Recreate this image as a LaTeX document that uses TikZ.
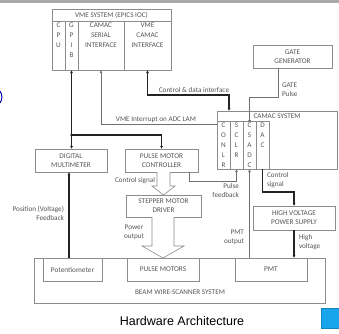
\documentclass[tikz,border=0pt]{standalone}
\usepackage{fontspec}
\setmainfont{Carlito}
\newfontfamily\arialf{Liberation Sans}
\usetikzlibrary{arrows.meta,calc}
\definecolor{boxc}{RGB}{140,140,140}
\definecolor{txtc}{RGB}{85,85,85}
\definecolor{thk}{RGB}{35,35,35}
\definecolor{barc}{RGB}{170,170,170}
\definecolor{sqc}{RGB}{25,165,235}
\begin{document}
\begin{tikzpicture}[x=1pt,y=-1pt,
 every node/.style={inner sep=0pt,outer sep=0pt},
 box/.style={draw=boxc,line width=0.6pt,anchor=north west,font=\fontsize{7.3}{9}\selectfont,text=txtc,align=center},
 lbl/.style={font=\fontsize{7.2}{9}\selectfont,text=txtc},
 stack/.style={font=\fontsize{7.2}{10}\selectfont,text=txtc,align=center,anchor=north},
 thinln/.style={draw=boxc!80!black,line width=0.6pt},
 thickln/.style={draw=thk,line width=1.2pt},
 tipa/.style={-{Latex[length=3pt,width=3pt]}},
 tipb/.style={{Latex[length=3pt,width=3pt]}-{Latex[length=3pt,width=3pt]}},
 tipr/.style={{Latex[length=3pt,width=3pt]}-},
 hollow/.style={draw=boxc,line width=0.6pt,fill=white,line join=miter}]
\useasboundingbox (0,0) rectangle (339,333);
\fill[barc] (0,0) rectangle (339,3);
\draw[blue!70!black,line width=1pt] (0,91) .. controls (2.5,94) and (2.5,100) .. (0,103);

% VME system
\node[box,minimum width=119,minimum height=61] (vme) at (52,9) {};
\node[lbl] (vmet) at (111.5,15.5) {VME SYSTEM (EPICS IOC)};
\node[box,minimum width=13,minimum height=49] (cpu) at (52,21) {};
\node[box,minimum width=13,minimum height=49] (gpib) at (65,21) {};
\node[box,minimum width=46,minimum height=49] (csi) at (78,21) {};
\node[box,minimum width=47,minimum height=49] (vci) at (124,21) {};
\node[stack] (cput) at (58.5,23) {C\\P\\U};
\node[stack] (gpibt) at (71.5,23) {G\\P\\I\\B};
\node[stack] (csit) at (101,23) {CAMAC\\SERIAL\\INTERFACE};
\node[stack] (vcit) at (147.5,23) {VME\\CAMAC\\INTERFACE};

% Gate generator
\node[box,minimum width=79,minimum height=23] (gate) at (253,45) {GATE\\GENERATOR};

% CAMAC system
\node[box,minimum width=120,minimum height=58] (camac) at (217,111) {};
\node[lbl] (camt) at (277,116.5) {CAMAC SYSTEM};
\node[box,minimum width=13,minimum height=48] (conlr) at (217,121) {};
\node[box,minimum width=13,minimum height=48] (sclr) at (230,121) {};
\node[box,minimum width=13,minimum height=48] (csadc) at (243,121) {};
\node[box,minimum width=13,minimum height=48] (dac) at (256,121) {};
\node[stack] (conlrt) at (223.5,123) {C\\O\\N\\L\\R};
\node[stack] (sclrt) at (236.5,123) {S\\C\\L\\R};
\node[stack] (csadct) at (249.5,123) {C\\S\\A\\D\\C};
\node[stack] (dact) at (262.5,123) {D\\A\\C};

% middle boxes
\node[box,minimum width=72,minimum height=23] (dmm) at (35,149) {DIGITAL\\MULTIMETER};
\node[box,minimum width=73,minimum height=23] (pmc) at (125,149) {PULSE MOTOR\\CONTROLLER};
\node[box,minimum width=75,minimum height=22] (smd) at (126,195) {STEPPER MOTOR\\DRIVER};
\node[box,minimum width=82,minimum height=24] (hv) at (253,206) {HIGH VOLTAGE\\POWER SUPPLY};

% beam wire-scanner system
\node[box,minimum width=291,minimum height=45] (beam) at (34,258) {};
\node[lbl] (beamt) at (180,292) {BEAM WIRE-SCANNER SYSTEM};
\node[box,minimum width=59,minimum height=23] (pot) at (43,258) {Potentiometer};
\node[box,minimum width=72,minimum height=23] (pm) at (127,258) {PULSE MOTORS};
\node[box,minimum width=72,minimum height=23] (pmt) at (235,258) {PMT};

% connectors
\draw[thickln,tipb] (gpib.south) -- (gpib.south |- dmm.north);
\coordinate (j1) at (71.5,135);
\fill[thk] (j1) circle (1.3);
\draw[thickln,tipa] (j1) -| (pmc.north);

\coordinate (vmeint) at (217,124);
\draw[thinln,tipr] (csi.south) |- (vmeint);
\node[lbl,anchor=south] (vmeintl) at (156,122.5) {VME Interrupt on ADC LAM};

\coordinate (cdi) at (229,111);
\draw[thickln,tipb] (vci.south) |- ($(cdi)+(0,-16)$) -- (cdi);
\node[lbl,anchor=south] (cdil) at (194,93) {Control \& data interface};

\coordinate (gp) at ($(gate.south west)+(25,0)$);
\coordinate (gpend) at (249.5,123);
\draw[thinln,tipa] (gp) |- ($(gpend)+(0,-26)$) -- (gpend);
\node[lbl,align=left,anchor=west] (gpl) at (282,90) {GATE\\Pulse};

\draw[thinln,tipa] ($(pmc.south east)+(-9,0)$) -- ++(0,9) -| (sclr.south);
\node[lbl,align=right,anchor=north east] (pfl) at (239,183) {Pulse\\feedback};

\draw[thinln,tipa] (pmt.north -| csadc.south) -- (csadc.south);
\node[lbl,align=right,anchor=east] (pmtl) at (244,237) {PMT\\output};

\draw[thickln,tipa] (dac.south) -- ++(0,23) -| (hv.north);
\node[lbl,align=left,anchor=west] (csl) at (267,180) {Control\\signal};

\draw[thickln,tipa] (hv.south) -- (hv.south |- pmt.north);
\node[lbl,align=left,anchor=west] (hvl) at (299,242) {High\\voltage};

\draw[thickln,tipa] ($(pot.north west)+(26,0)$) -- ($(dmm.south west)+(34,0)$);
\node[lbl,align=right,anchor=east] (pfbl) at (64,213) {Position (Voltage)\\Feedback};

% hollow arrows
\draw[hollow] ($(smd.north)+(-6.5,-23)$) -- ($(smd.north)+(-6.5,-9)$) -- ($(smd.north)+(-11.5,-9)$)
  -- (smd.north) -- ($(smd.north)+(11.5,-9)$) -- ($(smd.north)+(6.5,-9)$) -- ($(smd.north)+(6.5,-23)$);
\node[lbl,anchor=east] (ctl) at (155,181) {Control signal};

\draw[hollow] ($(pm.north)+(-11,-41)$) -- ($(pm.north)+(-11,-12)$) -- ($(pm.north)+(-21,-12)$)
  -- (pm.north) -- ($(pm.north)+(21,-12)$) -- ($(pm.north)+(11,-12)$) -- ($(pm.north)+(11,-41)$);
\node[lbl,align=center] (pol) at (134,232) {Power\\output};

% caption and marker
\node[font=\arialf\fontsize{12.5}{14}\selectfont] (cap) at (182,321) {Hardware Architecture};
\node[fill=sqc,draw=sqc!80!black,line width=0.4pt,minimum width=18,minimum height=20,anchor=north west] (sq) at (321,308) {};
\end{tikzpicture}
\end{document}
